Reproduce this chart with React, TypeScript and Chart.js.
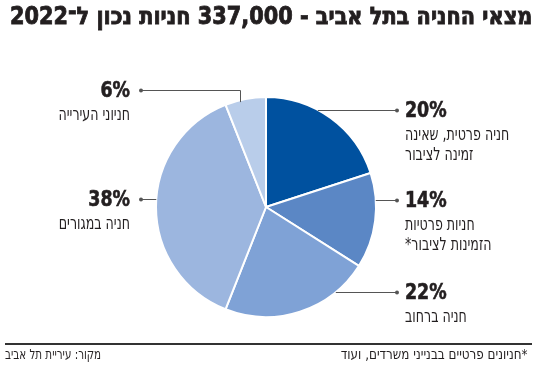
import React, { useEffect, useRef } from "react";
import { Chart, registerables } from "chart.js";

Chart.register(...registerables);

const titleText = "מצאי החניה בתל אביב - 337,000 חניות נכון ל־2022";
const categories = [
  "חניה פרטית, שאינה זמינה לציבור",
  "חניות פרטיות הזמינות לציבור*",
  "חניה ברחוב",
  "חניה במגורים",
  "חניוני העירייה",
];
const labelLines = [
  ["חניה פרטית, שאינה", "זמינה לציבור"],
  ["חניות פרטיות", "הזמינות לציבור*"],
  ["חניה ברחוב"],
  ["חניה במגורים"],
  ["חניוני העירייה"],
];
const shares = [20, 14, 22, 38, 6];
const sliceColors = ["#00519f", "#5b87c5", "#7fa2d6", "#9cb6df", "#b9cdea"];
const footnoteText = "*חניונים פרטיים בבנייני משרדים, ועוד";
const sourceText = "מקור: עיריית תל אביב";

// label layout (style): side and leader offset from pie centre
const labelLayout = [
  { side: "right", dy: -97 },
  { side: "right", dy: -7 },
  { side: "right", dy: 85 },
  { side: "left", dy: -8 },
  { side: "left", dy: -117, elbowX: -26 },
];

const FONT = '"DejaVu Sans Condensed", "DejaVu Sans", sans-serif';
const INK = "#231f20";
const LEADER = "#555555";

function drawScaled(ctx, text, x, y, font, align, sx, stroke) {
  ctx.save();
  ctx.translate(x, y);
  ctx.scale(sx, 1);
  ctx.font = font;
  ctx.textAlign = align;
  ctx.textBaseline = "middle";
  ctx.direction = "rtl";
  ctx.fillStyle = INK;
  ctx.fillText(text, 0, 0);
  if (stroke) {
    ctx.strokeStyle = INK;
    ctx.lineWidth = stroke;
    ctx.strokeText(text, 0, 0);
  }
  ctx.restore();
}

const labelPlugin = {
  id: "sliceLabels",
  afterDraw(chart) {
    const ctx = chart.ctx;
    const meta = chart.getDatasetMeta(0);
    meta.data.forEach((arc, i) => {
      const { x: cx, y: cy, outerRadius: r } = arc.getProps(["x", "y", "outerRadius"], true);
      const lay = labelLayout[i];
      const ly = cy + lay.dy;
      const py = Math.round(ly) + 0.5;
      ctx.save();
      ctx.strokeStyle = LEADER;
      ctx.fillStyle = LEADER;
      ctx.lineWidth = 1;
      let dotX;
      let textX;
      let align;
      if (lay.side === "right") {
        const sx = cx + Math.sqrt(Math.max(r * r - lay.dy * lay.dy, 0));
        dotX = cx + 131;
        ctx.beginPath();
        ctx.moveTo(sx, py);
        ctx.lineTo(dotX, py);
        ctx.stroke();
        textX = cx + 139;
        align = "left";
      } else {
        dotX = cx - 125;
        ctx.beginPath();
        if (lay.elbowX !== undefined) {
          const ex = Math.round(cx + lay.elbowX) + 0.5;
          const ey = cy - Math.sqrt(Math.max(r * r - lay.elbowX * lay.elbowX, 0));
          ctx.moveTo(dotX, py);
          ctx.lineTo(ex, py);
          ctx.lineTo(ex, ey + 2);
        } else {
          const sx = cx - Math.sqrt(Math.max(r * r - lay.dy * lay.dy, 0));
          ctx.moveTo(dotX, py);
          ctx.lineTo(sx, py);
        }
        ctx.stroke();
        textX = cx - 136;
        align = "right";
      }
      ctx.beginPath();
      ctx.arc(dotX, py, 2, 0, Math.PI * 2);
      ctx.fill();
      ctx.restore();

      drawScaled(ctx, shares[i] + "%", textX, ly + 1, "bold 22px " + FONT, align, 0.88, 0.6);
      labelLines[i].forEach((line, k) => {
        drawScaled(ctx, line, textX, ly + 25 + k * 20, "18px " + FONT, align, 0.78, 0);
      });
    });
  },
};

export default function App() {
  const canvasRef = useRef(null);
  useEffect(() => {
    document.body.style.margin = "0";
    const chart = new Chart(canvasRef.current, {
      type: "pie",
      data: {
        labels: categories,
        datasets: [
          {
            data: shares,
            backgroundColor: sliceColors,
            borderColor: "#ffffff",
            borderWidth: 2,
          },
        ],
      },
      options: {
        responsive: false,
        maintainAspectRatio: false,
        animation: false,
        devicePixelRatio: 1,
        layout: { padding: { left: 155, right: 173, top: 96, bottom: 51 } },
        plugins: { legend: { display: false }, tooltip: { enabled: false } },
      },
      plugins: [labelPlugin],
    });
    return () => chart.destroy();
  }, []);

  return (
    <div style={{ position: "absolute", left: 0, top: 0, width: 550, height: 369, background: "#fff", overflow: "hidden" }}>
      <canvas ref={canvasRef} width={550} height={369} style={{ position: "absolute", left: 0, top: 0 }} />
      <div
        dir="rtl"
        style={{
          position: "absolute",
          right: 18,
          top: 2,
          whiteSpace: "nowrap",
          font: "bold 24px " + FONT,
          color: INK,
          WebkitTextStroke: "0.8px " + INK,
          transform: "scaleX(0.965)",
          transformOrigin: "right center",
        }}
      >
        {titleText}
      </div>
      <div style={{ position: "absolute", left: 5, top: 343, width: 527, height: 2, background: "#333" }} />
      <div
        dir="rtl"
        style={{
          position: "absolute",
          right: 22,
          top: 346,
          whiteSpace: "nowrap",
          font: "14px " + FONT,
          color: INK,
          transform: "scaleX(0.95)",
          transformOrigin: "right center",
        }}
      >
        {footnoteText}
      </div>
      <div
        dir="rtl"
        style={{
          position: "absolute",
          left: 5,
          top: 346,
          whiteSpace: "nowrap",
          font: "14px " + FONT,
          color: INK,
          transform: "scaleX(0.82)",
          transformOrigin: "left center",
        }}
      >
        {sourceText}
      </div>
    </div>
  );
}
